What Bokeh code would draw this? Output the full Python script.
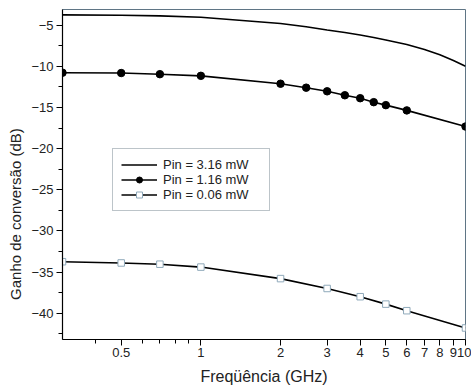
from bokeh.plotting import figure
from bokeh.models import FixedTicker, CustomJSTickFormatter, Range1d, Legend, LegendItem
from bokeh.embed import file_html
from bokeh.resources import INLINE

# Data
freq_316 = [0.3, 0.5, 0.7, 1, 2, 2.5, 3, 3.5, 4, 4.5, 5, 6, 7, 8, 9, 10]
gain_316 = [-3.75, -3.8, -3.88, -4.05, -4.8, -5.2, -5.6, -5.9, -6.2, -6.5, -6.8, -7.35, -7.95, -8.6, -9.3, -10.0]

freq_116 = [0.3, 0.5, 0.7, 1, 2, 2.5, 3, 3.5, 4, 4.5, 5, 6, 10]
gain_116 = [-10.78, -10.82, -10.96, -11.16, -12.12, -12.6, -13.04, -13.52, -13.88, -14.36, -14.72, -15.36, -17.32]

freq_006 = [0.3, 0.5, 0.7, 1, 2, 3, 4, 5, 6, 10]
gain_006 = [-33.75, -33.9, -34.05, -34.4, -35.8, -37.0, -38.0, -38.9, -39.7, -41.8]

labels = ["Pin = 3.16 mW", "Pin = 1.16 mW", "Pin = 0.06 mW"]
x_major = [0.5, 1, 2, 3, 4, 5, 6, 7, 8, 9, 10]
x_minor = [0.4, 0.6, 0.7, 0.8, 0.9]
y_major = [-5, -10, -15, -20, -25, -30, -35, -40]
y_minor = [-7.5, -12.5, -17.5, -22.5, -27.5, -32.5, -37.5, -42.5]

FONT = "Liberation Sans"
NB = "\u00a0"

p = figure(frame_width=403, frame_height=330, x_axis_type="log",
           output_backend="svg", toolbar_location=None,
           x_range=Range1d(0.3, 10), y_range=Range1d(-43.2, -3.1),
           min_border_left=62, min_border_top=9, min_border_right=6, min_border_bottom=46)

p.background_fill_color = "white"
p.border_fill_color = "white"
p.outline_line_color = "#5f7585"
p.outline_line_width = 1
p.grid.visible = False

# axes
p.xaxis.ticker = FixedTicker(ticks=x_major, minor_ticks=x_minor)
p.yaxis.ticker = FixedTicker(ticks=y_major, minor_ticks=y_minor)
p.xaxis.formatter = CustomJSTickFormatter(code="return String(tick);")
for ax in (p.xaxis[0], p.yaxis[0]):
    ax.axis_line_color = "black"
    ax.axis_line_width = 1.2
    ax.major_tick_line_color = "black"
    ax.minor_tick_line_color = "black"
    ax.major_tick_in = 0
    ax.minor_tick_in = 0
    ax.major_tick_out = 6
    ax.minor_tick_out = 4
    ax.major_label_text_font = FONT
    ax.major_label_text_font_size = "13px"
    ax.major_label_text_color = "#222222"
    ax.axis_label_text_font = FONT
    ax.axis_label_text_font_style = "normal"
    ax.axis_label_text_color = "#222222"

p.xaxis.axis_label = "Freqüência (GHz)"
p.yaxis.axis_label = "Ganho de conversão (dB)" + NB * 19
p.xaxis.axis_label_text_font_size = "16px"
p.yaxis.axis_label_text_font_size = "15px"
p.xaxis.major_label_standoff = 2
p.xaxis.axis_label_standoff = 8
p.yaxis.major_label_standoff = 3
p.yaxis.axis_label_standoff = 4

# series
l1 = p.line(freq_316, gain_316, line_color="black", line_width=1.6)
l2 = p.line(freq_116, gain_116, line_color="black", line_width=1.6)
s2 = p.scatter(freq_116, gain_116, marker="circle", size=7.5,
               fill_color="black", line_color="black")
l3 = p.line(freq_006, gain_006, line_color="black", line_width=1.6)
s3 = p.scatter(freq_006, gain_006, marker="square", size=6.5,
               fill_color="white", line_color="#8fa9ba", line_width=1)

legend = Legend(items=[
    LegendItem(label=labels[0], renderers=[l1]),
    LegendItem(label=labels[1], renderers=[l2, s2]),
    LegendItem(label=labels[2], renderers=[l3, s3]),
], location=(50, 128))
legend.label_text_font = FONT
legend.label_text_font_size = "13px"
legend.label_text_color = "#222222"
legend.glyph_width = 36
legend.glyph_height = 15
legend.label_height = 15
legend.label_width = 98
legend.label_standoff = 6
legend.spacing = 0
legend.padding = 8
legend.margin = 0
legend.border_line_color = "#7a8a94"
legend.border_line_width = 1
legend.background_fill_color = "white"
legend.background_fill_alpha = 1
p.add_layout(legend, "center")

open("out.html", "w").write(file_html(p, INLINE))
